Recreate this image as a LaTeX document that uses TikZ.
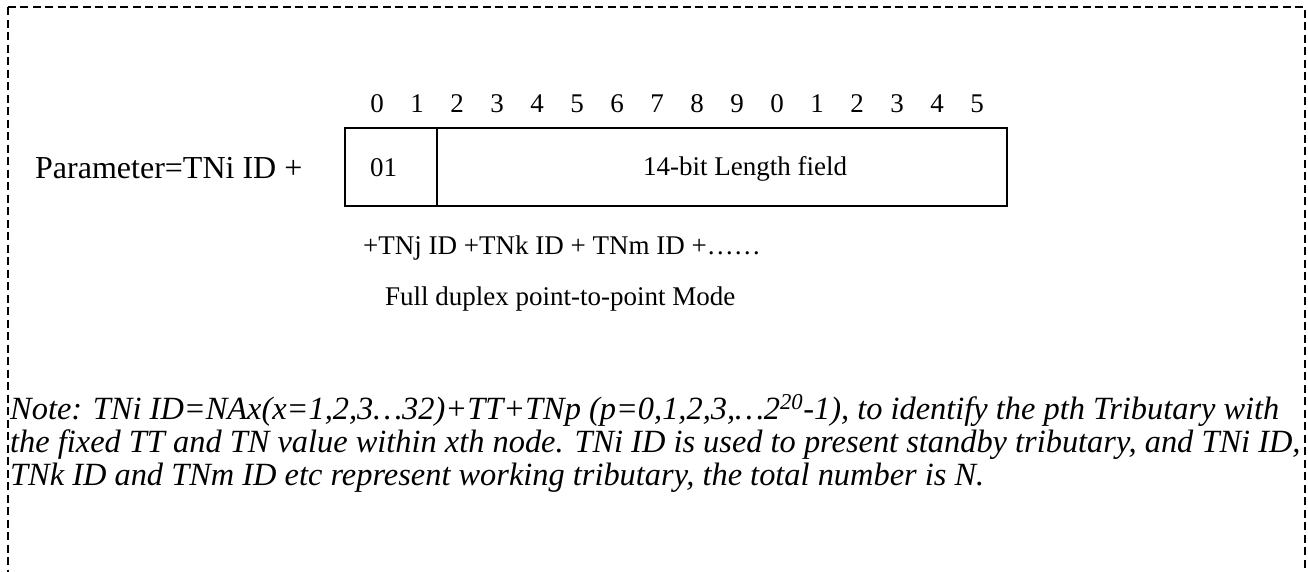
\documentclass[tikz,border=0pt]{standalone}
\usepackage{fontspec}
\setmainfont{Liberation Serif}
\begin{document}
\begin{tikzpicture}[x=1pt,y=-1pt,
  frame/.style={draw, line width=1.3pt, dash pattern=on 8pt off 4.5pt},
  field/.style={draw, line width=1.8pt, inner sep=0pt, anchor=north west},
  txt/.style={inner sep=0pt, anchor=base, font=\fontsize{27}{32}\selectfont},
  big/.style={inner sep=0pt, anchor=base west, font=\fontsize{32}{36}\selectfont},
  note/.style={inner sep=0pt, anchor=base west, font=\fontsize{32.4}{34}\selectfont\itshape}]
\useasboundingbox (0,0) rectangle (1308,571);
\clip (0,0) rectangle (1308,571);
% dashed outer frame, open towards the bottom
\draw[frame] (8,7) rectangle (1305,620);
% bit numbers above the parameter word
\foreach \i in {0,...,15}{
  \pgfmathtruncatemacro{\d}{mod(\i,10)}
  \node[txt] (bit\i) at ({377+40*\i},112) {\d};
}
% the two fields of the word
\node[field, minimum width=92pt, minimum height=78pt] (f01) at (344,127) {};
\node[field, minimum width=570pt, minimum height=78pt] (flen) at (436,127) {};
\node[txt] (t01) at (383.5,176) {01};
\node[txt] (tlen) at (745,175) {14-bit Length field};
% texts around the word
\node[big] (param) at (35,178) {Parameter=TNi ID +};
\node[txt, anchor=base west] (more) at (363,254) {+TNj ID +TNk ID + TNm ID +……};
\node[txt, anchor=base west] (mode) at (385,305) {Full duplex point-to-point Mode};
% explanatory note
\node[note] (n1) at (10,419) {Note: TNi ID=NAx(x=1,2,3…32)+TT+TNp (p=0,1,2,3,…2\textsuperscript{20}-1), to identify the pth Tributary with};
\node[note] (n2) at (10,452) {the fixed TT and TN value within xth node. TNi ID is used to present standby tributary, and TNi ID,};
\node[note] (n3) at (10,485) {TNk ID and TNm ID etc represent working tributary, the total number is N.};
\end{tikzpicture}
\end{document}
